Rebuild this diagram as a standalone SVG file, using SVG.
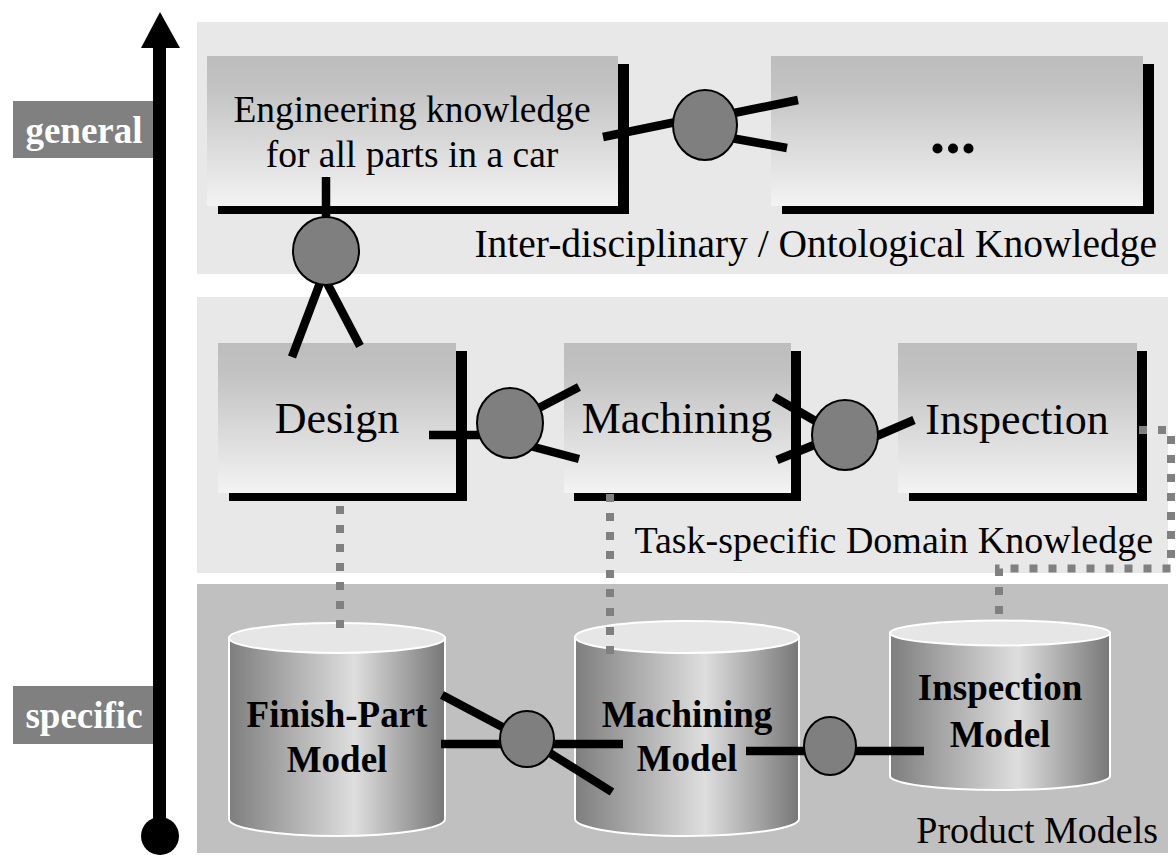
<svg xmlns="http://www.w3.org/2000/svg" width="1176" height="855" viewBox="0 0 1176 855">
<defs>
<linearGradient id="boxGrad" x1="0" y1="0" x2="0" y2="1">
<stop offset="0" stop-color="#bdbdbd"/>
<stop offset="0.2" stop-color="#c2c2c2"/>
<stop offset="1" stop-color="#f3f3f3"/>
</linearGradient>
<linearGradient id="cylGrad" x1="0" y1="0" x2="1" y2="0">
<stop offset="0" stop-color="#7e7e7e"/>
<stop offset="0.58" stop-color="#dedede"/>
<stop offset="1" stop-color="#777777"/>
</linearGradient>
<style>
.panel-light{fill:#e8e8e8}
.panel-dark{fill:#c0c0c0}
.box{fill:url(#boxGrad)}
.shadow{fill:#000}
.serif{font-family:"Liberation Serif","Times New Roman",serif;fill:#000}
.node-text{font-size:44px;text-anchor:middle}
.eng-text{font-size:37.5px;text-anchor:middle}
.layer-text{font-size:38px;text-anchor:end}
.cyl-body{fill:url(#cylGrad);stroke:#fff;stroke-width:2}
.cyl-top{fill:#e6e6e6;stroke:#fff;stroke-width:2}
.cyl-text{font-size:37px;font-weight:bold;text-anchor:middle}
.link{stroke:#000;stroke-width:8.5;fill:none}
.hub{fill:#7f7f7f;stroke:#000;stroke-width:2}
.dot{stroke:#808080;stroke-width:8;stroke-dasharray:8 11;fill:none}
.tag{fill:#808080}
.tag-text{fill:#fff;font-weight:bold;font-size:37px;text-anchor:middle}
</style>
</defs>

<g id="layers">
<rect class="panel-light" x="197" y="22" width="971" height="252"/>
<rect class="panel-light" x="197" y="297" width="971" height="276"/>
<rect class="panel-dark" x="197" y="584" width="971" height="269"/>
<text class="serif layer-text" x="1157" y="257" font-size="39.5" style="font-size:39.5px">Inter-disciplinary / Ontological Knowledge</text>
<text class="serif layer-text" x="1153" y="553">Task-specific Domain Knowledge</text>
<text class="serif layer-text" x="1158" y="843">Product Models</text>
</g>

<g id="axis">
<rect class="tag" x="13" y="101" width="143" height="57"/>
<text class="serif tag-text" x="84" y="143">general</text>
<rect class="tag" x="13" y="686" width="143" height="58"/>
<text class="serif tag-text" x="84" y="728">specific</text>
<rect x="153" y="46" width="13" height="790" fill="#000"/>
<polygon points="160,12 141,48 180,48" fill="#000"/>
<circle cx="160" cy="836" r="19" fill="#000"/>
</g>

<g id="node-engineering">
<rect class="shadow" x="218" y="64" width="411" height="150"/>
<rect class="box" x="207" y="56" width="411" height="150"/>
<text class="serif eng-text" x="412" y="122">Engineering knowledge</text>
<text class="serif eng-text" x="412" y="167">for all parts in a car</text>
</g>

<g id="node-more">
<rect class="shadow" x="782" y="64" width="372" height="150"/>
<rect class="box" x="771" y="56" width="372" height="150"/>
<text class="serif" x="953" y="153" font-size="62" font-weight="bold" text-anchor="middle">...</text>
</g>

<g id="node-design">
<rect class="shadow" x="229" y="351" width="238" height="150"/>
<rect class="box" x="218" y="343" width="238" height="150"/>
<text class="serif node-text" x="337" y="433">Design</text>
</g>

<g id="node-machining">
<rect class="shadow" x="574" y="351" width="227" height="150"/>
<rect class="box" x="564" y="343" width="227" height="150"/>
<text class="serif node-text" x="677" y="433">Machining</text>
</g>

<g id="node-inspection">
<rect class="shadow" x="909" y="351" width="238" height="150"/>
<rect class="box" x="898" y="343" width="239" height="150"/>
<text class="serif node-text" x="1017" y="434">Inspection</text>
</g>

<g id="node-finish-part-model">
<path class="cyl-body" d="M229,638 V819 A108,17 0 0 0 445,819 V638 Z"/>
<ellipse class="cyl-top" cx="337" cy="638" rx="108" ry="15"/>
<text class="serif cyl-text" x="337" y="727">Finish-Part</text>
<text class="serif cyl-text" x="337" y="772">Model</text>
</g>

<g id="node-machining-model">
<path class="cyl-body" d="M575,637 V819 A112,17 0 0 0 799,819 V637 Z"/>
<ellipse class="cyl-top" cx="687" cy="637" rx="112" ry="16"/>
<text class="serif cyl-text" x="687" y="727">Machining</text>
<text class="serif cyl-text" x="687" y="771">Model</text>
</g>

<g id="node-inspection-model">
<path class="cyl-body" d="M890,633 V776 A110,14 0 0 0 1110,776 V633 Z"/>
<ellipse class="cyl-top" cx="1000" cy="633" rx="110" ry="12.5"/>
<text class="serif cyl-text" x="1000" y="700">Inspection</text>
<text class="serif cyl-text" x="1000" y="747">Model</text>
</g>

<g id="connectors">
<path class="dot" d="M340,506 V628"/>
<path class="dot" d="M610,494 V654"/>
<path class="dot" d="M1139,430 H1171 V568.5 H999 V622"/>

<line class="link" x1="326" y1="177" x2="326" y2="218"/>
<line class="link" x1="320" y1="283" x2="292" y2="357"/>
<line class="link" x1="327" y1="283" x2="360" y2="346"/>
<ellipse class="hub" cx="326" cy="251" rx="33" ry="34"/>

<line class="link" x1="603" y1="137" x2="676" y2="122"/>
<line class="link" x1="734" y1="113" x2="798" y2="100"/>
<line class="link" x1="731" y1="138" x2="787" y2="148"/>
<ellipse class="hub" cx="705" cy="125" rx="32" ry="35"/>

<line class="link" x1="429" y1="435" x2="480" y2="435"/>
<line class="link" x1="535" y1="410" x2="579" y2="387"/>
<line class="link" x1="530" y1="446" x2="579" y2="459"/>
<ellipse class="hub" cx="510" cy="423" rx="33" ry="35"/>

<line class="link" x1="774" y1="397" x2="824" y2="426"/>
<line class="link" x1="777" y1="460" x2="824" y2="441"/>
<line class="link" x1="872" y1="438" x2="914" y2="420"/>
<ellipse class="hub" cx="845" cy="435" rx="33" ry="35"/>

<line class="link" x1="442" y1="695" x2="510" y2="731"/>
<line class="link" x1="441" y1="744" x2="623" y2="744"/>
<line class="link" x1="545" y1="750" x2="612" y2="792"/>
<ellipse class="hub" cx="527" cy="739" rx="27" ry="28"/>

<line class="link" x1="746" y1="751" x2="810" y2="751"/>
<line class="link" x1="850" y1="751" x2="924" y2="751"/>
<ellipse class="hub" cx="830" cy="746" rx="26" ry="29"/>
</g>
</svg>
